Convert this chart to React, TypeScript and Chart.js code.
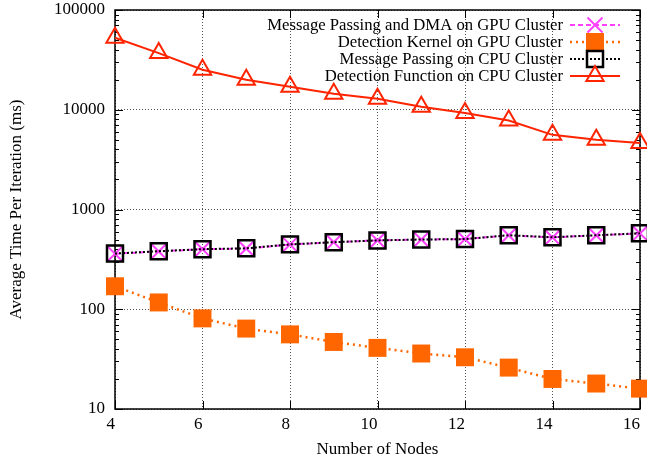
import React, { useEffect, useRef } from 'react';
import { Chart, registerables } from 'chart.js';

Chart.register(...registerables);

const nodes = [4, 5, 6, 7, 8, 9, 10, 11, 12, 13, 14, 15, 16];
const gpuMsgDma = [360, 380, 400, 405, 445, 470, 490, 500, 505, 550, 525, 550, 575];
const gpuKernel = [170, 117, 81, 64, 56, 47, 41, 36, 33, 26, 20, 18, 16];
const cpuMsg = [362, 382, 400, 408, 447, 470, 490, 500, 505, 552, 527, 552, 577];
const cpuDetect = [52700, 37000, 25200, 20000, 17000, 14500, 12900, 10700, 9300, 7800, 5600, 5000, 4650];

const yTicks = [10, 100, 1000, 10000, 100000];
const xTicks = [4, 6, 8, 10, 12, 14, 16];

const seriesLabels = [
  'Message Passing and DMA on GPU Cluster',
  'Detection Kernel on GPU Cluster',
  'Message Passing on CPU Cluster',
  'Detection Function on CPU Cluster',
];

const FONT = '"Liberation Serif", "Times New Roman", serif';

const MAGENTA = '#ff40ff';
const ORANGE = '#ff6600';
const BLACK = '#000000';
const RED = '#ff2400';

// plot-area frame (layout only)
const AREA = { left: 115, top: 10, right: 640, bottom: 409 };
const CANVAS_W = 647;
const CANVAS_H = 461;

function line(ctx: CanvasRenderingContext2D, x1: number, y1: number, x2: number, y2: number) {
  ctx.beginPath();
  ctx.moveTo(x1, y1);
  ctx.lineTo(x2, y2);
  ctx.stroke();
}

const frameLayoutPlugin = {
  id: 'frameLayout',
  afterLayout(chart: any) {
    const a = chart.chartArea;
    a.left = AREA.left;
    a.top = AREA.top;
    a.right = AREA.right;
    a.bottom = AREA.bottom;
    a.width = AREA.right - AREA.left;
    a.height = AREA.bottom - AREA.top;
    const xs = chart.scales.x;
    xs.left = AREA.left;
    xs.right = AREA.right;
    xs.width = AREA.right - AREA.left;
    xs.top = AREA.bottom;
    xs.bottom = CANVAS_H;
    xs.height = CANVAS_H - AREA.bottom;
    const ys = chart.scales.y;
    ys.left = 0;
    ys.right = AREA.left;
    ys.width = AREA.left;
    ys.top = AREA.top;
    ys.bottom = AREA.bottom;
    ys.height = AREA.bottom - AREA.top;
    xs.configure();
    ys.configure();
  },
};

const decorPlugin = {
  id: 'decor',
  beforeDatasetsDraw(chart: any) {
    const { ctx, chartArea: a, scales } = chart;
    const ys = scales.y;
    const xs = scales.x;
    ctx.save();
    ctx.strokeStyle = '#000';
    ctx.lineWidth = 1;
    ctx.setLineDash([]);
    for (let d = 10; d < 100000; d *= 10) {
      for (let k = 2; k < 10; k++) {
        const py = Math.round(ys.getPixelForValue(k * d)) + 0.5;
        line(ctx, a.left, py, a.left + 4, py);
        line(ctx, a.right - 4, py, a.right, py);
      }
    }
    for (const v of yTicks) {
      const py = Math.round(ys.getPixelForValue(v)) + 0.5;
      line(ctx, a.left, py, a.left + 8, py);
      line(ctx, a.right - 8, py, a.right, py);
    }
    for (const v of xTicks) {
      const px = Math.round(xs.getPixelForValue(v)) + 0.5;
      line(ctx, px, a.bottom, px, a.bottom - 8);
      line(ctx, px, a.top, px, a.top + 8);
    }
    ctx.lineWidth = 1.5;
    ctx.strokeRect(a.left, a.top, a.right - a.left, a.bottom - a.top);
    ctx.restore();
  },
  afterDraw(chart: any) {
    const { ctx } = chart;
    const textRight = 563;
    const sx1 = 570;
    const sx2 = 620;
    const mx = 595;
    const rows = [25, 42, 59, 76];
    const styles = [
      { color: MAGENTA, dash: [5, 3], width: 2, marker: 'crossRot' },
      { color: ORANGE, dash: [2, 4], width: 2.5, marker: 'rectFill' },
      { color: BLACK, dash: [2, 2], width: 2, marker: 'rect' },
      { color: RED, dash: [], width: 2, marker: 'triangle' },
    ];
    ctx.save();
    ctx.font = `16.7px ${FONT}`;
    ctx.textAlign = 'right';
    ctx.textBaseline = 'middle';
    for (let i = 0; i < 4; i++) {
      const y = rows[i];
      const s = styles[i];
      ctx.fillStyle = '#000';
      ctx.fillText(seriesLabels[i], textRight, y + 1);
      ctx.strokeStyle = s.color;
      ctx.lineWidth = s.width;
      ctx.setLineDash(s.dash);
      line(ctx, sx1, y, sx2, y);
      ctx.setLineDash([]);
      if (s.marker === 'crossRot') {
        ctx.lineWidth = 2;
        const h = 7.5;
        line(ctx, mx - h, y - h, mx + h, y + h);
        line(ctx, mx - h, y + h, mx + h, y - h);
      } else if (s.marker === 'rectFill') {
        ctx.fillStyle = s.color;
        ctx.fillRect(mx - 9, y - 9, 18, 18);
      } else if (s.marker === 'rect') {
        ctx.lineWidth = 2.5;
        ctx.strokeRect(mx - 8, y - 8, 16, 16);
      } else {
        ctx.lineWidth = 2;
        const r = 10;
        ctx.beginPath();
        ctx.moveTo(mx, y - r);
        ctx.lineTo(mx + r * Math.sin((2 * Math.PI) / 3), y - r * Math.cos((2 * Math.PI) / 3));
        ctx.lineTo(mx + r * Math.sin((4 * Math.PI) / 3), y - r * Math.cos((4 * Math.PI) / 3));
        ctx.closePath();
        ctx.stroke();
      }
    }
    ctx.restore();
  },
};

export default function App() {
  const ref = useRef<HTMLCanvasElement | null>(null);

  useEffect(() => {
    if (!ref.current) return;
    const toXY = (vals: number[]) => nodes.map((n, i) => ({ x: n, y: vals[i] }));
    const chart = new Chart(ref.current, {
      type: 'line',
      data: {
        datasets: [
          {
            label: seriesLabels[0],
            data: toXY(gpuMsgDma),
            borderColor: MAGENTA,
            backgroundColor: MAGENTA,
            borderWidth: 2,
            borderDash: [5, 3],
            pointStyle: 'crossRot',
            pointRadius: 10.5,
            pointBorderWidth: 2,
            pointBorderColor: MAGENTA,
            order: 3,
            clip: false,
          },
          {
            label: seriesLabels[1],
            data: toXY(gpuKernel),
            borderColor: ORANGE,
            backgroundColor: ORANGE,
            borderWidth: 2.5,
            borderDash: [2, 4],
            pointStyle: 'rect',
            pointRadius: 12.7,
            pointBorderWidth: 0,
            pointBackgroundColor: ORANGE,
            order: 2,
            clip: false,
          },
          {
            label: seriesLabels[2],
            data: toXY(cpuMsg),
            borderColor: BLACK,
            backgroundColor: 'rgba(0,0,0,0)',
            borderWidth: 2,
            borderDash: [2, 2],
            pointStyle: 'rect',
            pointRadius: 11.3,
            pointBorderWidth: 2.5,
            pointBorderColor: BLACK,
            pointBackgroundColor: 'rgba(0,0,0,0)',
            order: 1,
            clip: false,
          },
          {
            label: seriesLabels[3],
            data: toXY(cpuDetect),
            borderColor: RED,
            backgroundColor: 'rgba(0,0,0,0)',
            borderWidth: 2,
            pointStyle: 'triangle',
            pointRadius: 10,
            pointBorderWidth: 2,
            pointBorderColor: RED,
            pointBackgroundColor: 'rgba(0,0,0,0)',
            order: 0,
            clip: false,
          },
        ],
      },
      options: {
        responsive: false,
        animation: false,
        layout: { padding: { left: 0, right: 7, top: 10, bottom: 0 } },
        plugins: {
          legend: { display: false },
          tooltip: { enabled: false },
        },
        elements: { line: { tension: 0 } },
        scales: {
          x: {
            type: 'linear',
            min: 4,
            max: 16,
            afterBuildTicks: (s: any) => {
              s.ticks = xTicks.map((v) => ({ value: v }));
            },
            afterFit: (s: any) => {
              s.height = 52;
            },
            ticks: {
              color: '#000',
              font: { family: FONT, size: 17 },
              padding: 5,
              align: 'end',
              maxRotation: 0,
              callback: (v: any) => String(v),
            },
            grid: { color: '#555', lineWidth: 1, drawTicks: false },
            border: { display: false, dash: [1, 2] },
            title: {
              display: true,
              text: 'Number of Nodes',
              color: '#000',
              font: { family: FONT, size: 17 },
              padding: { top: 0, bottom: 1 },
            },
          },
          y: {
            type: 'logarithmic',
            min: 10,
            max: 100000,
            afterBuildTicks: (s: any) => {
              s.ticks = yTicks.map((v) => ({ value: v }));
            },
            afterFit: (s: any) => {
              s.width = 115;
            },
            ticks: {
              color: '#000',
              font: { family: FONT, size: 17 },
              padding: 10,
              callback: (v: any) => String(v),
            },
            grid: { color: '#555', lineWidth: 1, drawTicks: false },
            border: { display: false, dash: [1, 2] },
            title: {
              display: true,
              text: 'Average Time Per Iteration (ms)',
              color: '#000',
              font: { family: FONT, size: 17 },
              padding: { top: 6, bottom: 0 },
            },
          },
        },
      },
      plugins: [frameLayoutPlugin, decorPlugin],
    } as any);
    return () => chart.destroy();
  }, []);

  return (
    <div style={{ position: 'absolute', left: 0, top: 0, width: CANVAS_W, height: CANVAS_H, background: '#fff' }}>
      <canvas ref={ref} width={CANVAS_W} height={CANVAS_H} style={{ width: CANVAS_W, height: CANVAS_H, display: 'block' }} />
    </div>
  );
}
